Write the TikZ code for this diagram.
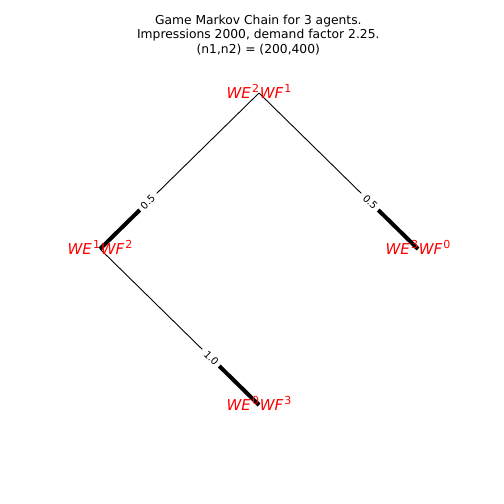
\documentclass[tikz,border=0pt]{standalone}
\usepackage{fontspec}
\setmainfont{DejaVu Sans}
\usetikzlibrary{calc}
\newcommand{\wewf}[2]{{\itshape WE}\kern1.2pt\raisebox{6pt}{\fontsize{11}{11}\selectfont #1}\kern0.8pt{\itshape WF}\kern1.2pt\raisebox{6pt}{\fontsize{11}{11}\selectfont #2}}

\begin{document}
\begin{tikzpicture}[x=1pt, y=-1pt,
    state/.style={text=red, font=\fontsize{15}{17}\selectfont, inner sep=0pt, yshift=1.5pt},
    trans/.style={line width=0.9pt},
    stub/.style={line width=4pt},
    prob/.style={fill=white, font=\fontsize{10}{11}\selectfont, inner xsep=4.5pt, inner ysep=2pt, sloped, pos=0.7}]
  \useasboundingbox (0,0) rectangle (504,504);

  % titel
  \node[anchor=south, align=center, font=\fontsize{12.3}{14.6}\selectfont] (title) at (258.3,58.5)
    {Game Markov Chain for 3 agents.\\ Impressions 2000, demand factor 2.25.\\ (n1,n2) = (200,400)};

  % posities van de toestanden
  \coordinate (s21) at (259,93);
  \coordinate (s12) at (100,249);
  \coordinate (s30) at (418,249);
  \coordinate (s03) at (259,405);

  % overgangen
  \draw[trans] (s21) -- node[prob] {0.5} (s12);
  \draw[stub] ($(s21)!0.75!(s12)$) -- (s12);
  \draw[trans] (s21) -- node[prob] {0.5} (s30);
  \draw[stub] ($(s21)!0.75!(s30)$) -- (s30);
  \draw[trans] (s12) -- node[prob] {1.0} (s03);
  \draw[stub] ($(s12)!0.75!(s03)$) -- (s03);

  % toestanden
  \node[state] (n21) at (s21) {\wewf{2}{1}};
  \node[state] (n12) at (s12) {\wewf{1}{2}};
  \node[state] (n30) at (s30) {\wewf{3}{0}};
  \node[state] (n03) at (s03) {\wewf{0}{3}};
\end{tikzpicture}
\end{document}
